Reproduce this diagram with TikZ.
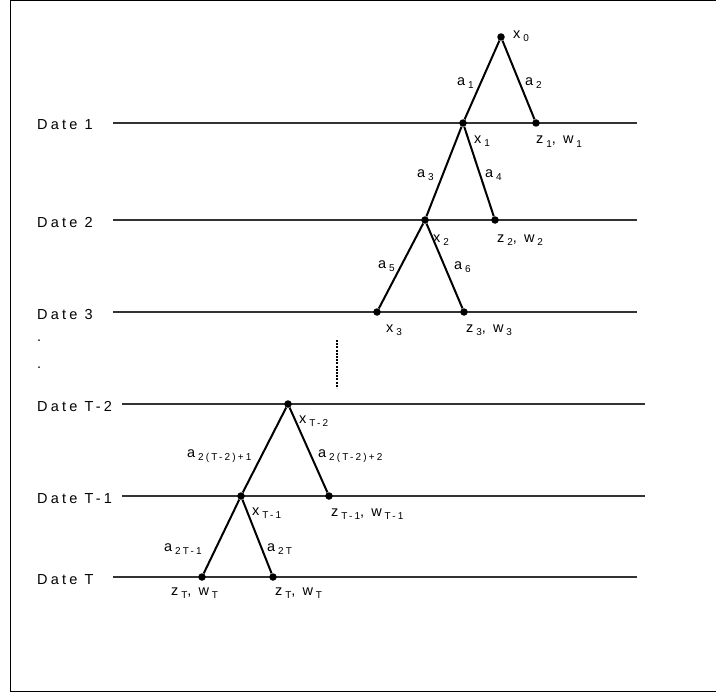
\documentclass[tikz,border=0pt]{standalone}
\usepackage{fontspec}
\setmainfont{Liberation Sans}[LetterSpace=22]
\usetikzlibrary{positioning}

\newcommand{\lsub}[2]{#1\kern2.8pt\raisebox{-3pt}{\fontsize{10}{11}\selectfont #2}}

\begin{document}
\begin{tikzpicture}[
      x=1pt, y=-1pt,
      dot/.style={circle, fill, inner sep=0pt, minimum size=7.5pt},
      lbl/.style={anchor=base west, inner sep=0pt, font=\fontsize{14.5}{16}\selectfont},
      dateline/.style={line width=1.8pt, black!80},
      branch/.style={line width=2pt}
    ]
      \useasboundingbox (0,0) rectangle (716,693);
      \draw[line width=1.2pt] (10.5,0.5) rectangle (718,691.5);

      % date labels and lines
      \node[lbl] (date1) at (37,130) {Date 1};
      \node[lbl] (date2) at (37,227) {Date 2};
      \node[lbl] (date3) at (37,319) {Date 3};
      \node[lbl] (dot1) at (37,341) {.};
      \node[lbl] (dot2) at (37,368) {.};
      \node[lbl] (dateT2) at (37,411) {Date T-2};
      \node[lbl] (dateT1) at (37,503) {Date T-1};
      \node[lbl] (dateT) at (37,584) {Date T};
      \coordinate (d1s) at (113,123); \coordinate (d1e) at (637,123);
      \coordinate (d2s) at (113,220); \coordinate (d2e) at (637,220);
      \coordinate (d3s) at (113,312); \coordinate (d3e) at (637,312);
      \coordinate (dT2s) at (122,404); \coordinate (dT2e) at (645,404);
      \coordinate (dT1s) at (122,496); \coordinate (dT1e) at (645,496);
      \coordinate (dTs) at (113,577); \coordinate (dTe) at (637,577);
      \draw[dateline] (d1s) -- (d1e);
      \draw[dateline] (d2s) -- (d2e);
      \draw[dateline] (d3s) -- (d3e);
      \draw[dateline] (dT2s) -- (dT2e);
      \draw[dateline] (dT1s) -- (dT1e);
      \draw[dateline] (dTs) -- (dTe);

      % gap between date 3 and date T-2
      \coordinate (gaps) at (337,340);
      \coordinate (gape) at (337,388);
      \draw[line width=1.2pt, dash pattern=on 2pt off 1.2pt] (gaps) -- (gape);

      % tree
      \node[dot] (x0) at (501,37) {};
      \node[dot] (x1) at (463,123) {};
      \node[dot] (z1) at (536,123) {};
      \node[dot] (x2) at (425,220) {};
      \node[dot] (z2) at (495,220) {};
      \node[dot] (x3) at (377,312) {};
      \node[dot] (z3) at (464,312) {};
      \node[dot] (xT2) at (288,404) {};
      \node[dot] (xT1) at (241,496) {};
      \node[dot] (zT1) at (329,496) {};
      \node[dot] (zTa) at (202,577) {};
      \node[dot] (zTb) at (273,577) {};
      \draw[branch] (x0) -- (x1);
      \draw[branch] (x0) -- (z1);
      \draw[branch] (x1) -- (x2);
      \draw[branch] (x1) -- (z2);
      \draw[branch] (x2) -- (x3);
      \draw[branch] (x2) -- (z3);
      \draw[branch] (xT2) -- (xT1);
      \draw[branch] (xT2) -- (zT1);
      \draw[branch] (xT1) -- (zTa);
      \draw[branch] (xT1) -- (zTb);

      % labels
      \node[lbl] (lx0) at (513,39) {\lsub{x}{0}};
      \node[lbl] (la1) at (457,86) {\lsub{a}{1}};
      \node[lbl] (la2) at (525,86) {\lsub{a}{2}};
      \node[lbl] (lx1) at (474,143) {\lsub{x}{1}};
      \node[lbl] (lz1) at (536,144) {\lsub{z}{1}, \lsub{w}{1}};
      \node[lbl] (la3) at (417,178) {\lsub{a}{3}};
      \node[lbl] (la4) at (485,178) {\lsub{a}{4}};
      \node[lbl] (lx2) at (433,242) {\lsub{x}{2}};
      \node[lbl] (lz2) at (497,242) {\lsub{z}{2}, \lsub{w}{2}};
      \node[lbl] (la5) at (378,268) {\lsub{a}{5}};
      \node[lbl] (la6) at (454,269) {\lsub{a}{6}};
      \node[lbl] (lx3) at (386,332) {\lsub{x}{3}};
      \node[lbl] (lz3) at (466,332) {\lsub{z}{3}, \lsub{w}{3}};
      \node[lbl] (lxT2) at (299,423) {\lsub{x}{T-2}};
      \node[lbl] (laT21) at (187,457) {\lsub{a}{2(T-2)+1}};
      \node[lbl] (laT22) at (318,457) {\lsub{a}{2(T-2)+2}};
      \node[lbl] (lxT1) at (252,515) {\lsub{x}{T-1}};
      \node[lbl] (lzT1) at (331,516) {\lsub{z}{T-1}, \lsub{w}{T-1}};
      \node[lbl] (laT1) at (164,551) {\lsub{a}{2T-1}};
      \node[lbl] (laT) at (267,551) {\lsub{a}{2T}};
      \node[lbl] (lzTa) at (171,595) {\lsub{z}{T}, \lsub{w}{T}};
      \node[lbl] (lzTb) at (275,595) {\lsub{z}{T}, \lsub{w}{T}};
    \end{tikzpicture}
\end{document}
